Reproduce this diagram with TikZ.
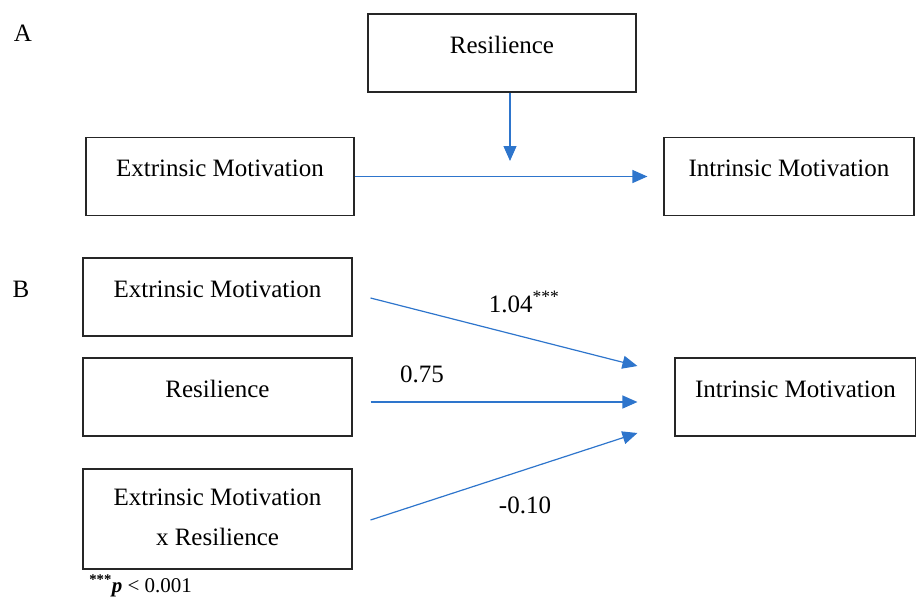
\documentclass[tikz,border=0pt]{standalone}
\usepackage{fontspec}
\setmainfont{Liberation Serif}
\usetikzlibrary{arrows.meta,positioning}
\definecolor{pathblue}{RGB}{46,117,204}
\tikzset{every picture/.style={line width=0.75pt}}
\tikzset{
  varbox/.style={draw=black!85, line width=1.1pt, minimum width=269pt, minimum height=78pt,
    inner sep=0pt, font=\fontsize{25}{30}\selectfont, text height=12pt, text depth=12pt},
  pathline/.style={pathblue, line width=1.2pt, -{Triangle[length=15pt,width=13pt]}},
  coef/.style={font=\fontsize{25}{30}\selectfont, inner sep=0pt, anchor=base}
}

\begin{document}
\begin{tikzpicture}[x=1pt, y=-1pt]
    \useasboundingbox (0,0) rectangle (916,597);

    % panel A: moderation model
    \node[coef] (panelA) at (23,41) {A};
    \node[varbox, minimum width=268pt] (resA) at (502,53) {Resilience};
    \node[varbox, minimum width=268pt] (extA) at (220,176.5) {Extrinsic Motivation};
    \node[varbox, minimum width=250pt] (intA) at (789,176.5) {Intrinsic Motivation};
    \coordinate (modA) at (510,161);

    % paths of panel A
    \draw[pathline, shorten >=16pt] (extA.east) -- (intA.west);
    \draw[pathline] (resA.south -| modA) -- (modA);

    % panel B: regression paths
    \node[coef] (panelB) at (21,297) {B};
    \node[varbox] (extB) at (217.5,297) {Extrinsic Motivation};
    \node[varbox] (resB) at (217.5,397) {Resilience};
    \node[varbox, minimum height=100pt] (intxB) at (217.5,519) {};
    \node[coef, anchor=center, align=center, font=\fontsize{25}{40}\selectfont] (intxT)
        at ([yshift=2pt]intxB.center) {Extrinsic Motivation\\x Resilience};
    \node[varbox, minimum width=241pt] (intB) at (795.5,397) {Intrinsic Motivation};

    % coefficients
    \draw[pathline] ([shift={(18,1)}]extB.east) -- ([shift={(-37,-31)}]intB.west);
    \draw[pathline] ([shift={(18,5)}]resB.east) -- ([shift={(-37,5)}]intB.west);
    \draw[pathline] ([shift={(18,1)}]intxB.east) -- ([shift={(-37,36)}]intB.west);
    \node[coef] (coefE) at (524,312) {1.04\textsuperscript{***}};
    \node[coef] (coefR) at (422,382) {0.75};
    \node[coef] (coefX) at (525,513) {-0.10};

    % significance note
    \node[coef, anchor=base west, font=\fontsize{21}{25}\selectfont] (note) at (89,592)
        {\textbf{\textsuperscript{***}\textit{p}} < 0.001};
\end{tikzpicture}
\end{document}
